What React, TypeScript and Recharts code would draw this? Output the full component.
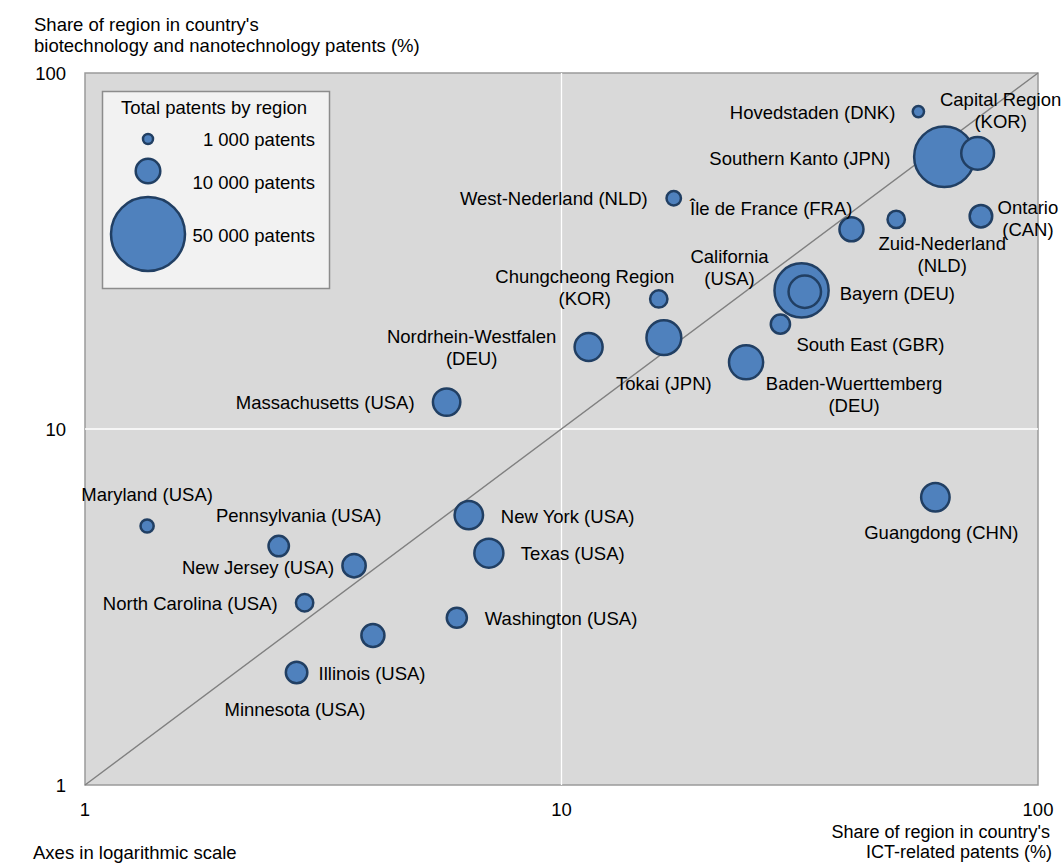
import React from 'react'
import { ScatterChart, Scatter, XAxis, YAxis, ZAxis, ReferenceArea, ReferenceLine } from 'recharts'

// regions, with line breaks where the labels wrap
const REGIONS = [
  'Hovedstaden (DNK)', 'Capital Region\n(KOR)', 'Southern Kanto (JPN)', 'West-Nederland (NLD)',
  'Île de France (FRA)', 'Zuid-Nederland\n(NLD)', 'Ontario\n(CAN)', 'California\n(USA)',
  'Bayern (DEU)', 'South East (GBR)', 'Baden-Wuerttemberg\n(DEU)', 'Guangdong (CHN)',
  'Chungcheong Region\n(KOR)', 'Tokai (JPN)', 'Nordrhein-Westfalen\n(DEU)', 'Massachusetts (USA)',
  'Maryland (USA)', 'Pennsylvania (USA)', 'New Jersey (USA)', 'North Carolina (USA)',
  'New York (USA)', 'Texas (USA)', 'Washington (USA)', 'Minnesota (USA)', 'Illinois (USA)',
]
// share of region in country's ICT-related patents (%)
const ICT_SHARE = [56.1, 74.7, 63.6, 17.2, 40.6, 50.4, 75.9, 31.9, 32.4, 28.8, 24.4, 60.9, 16.0, 16.4, 11.4, 5.74, 1.35, 2.55, 3.67, 2.89, 6.39, 7.04, 6.03, 4.02, 2.78]
// share of region in country's biotech and nanotech patents (%)
const BIO_SHARE = [77.9, 59.5, 58.2, 44.5, 36.4, 38.8, 39.6, 24.5, 24.3, 19.7, 15.4, 6.43, 23.2, 18.05, 17.0, 11.9, 5.34, 4.69, 4.13, 3.25, 5.73, 4.48, 2.95, 2.63, 2.07]
// total patents by region
const TOTAL_PATENTS = [1100, 9300, 31600, 1800, 5000, 2600, 4400, 25400, 9100, 3200, 10100, 7000, 2600, 10500, 6800, 6500, 1500, 3600, 4700, 2600, 7000, 7300, 3500, 4600, 4000]

const AXIS_TICKS = [1, 10, 100]
const LEGEND_LABELS = ['1 000 patents', '10 000 patents', '50 000 patents']

const W = 1064
const H = 863
const FONT = '"Liberation Sans", Arial, Helvetica, sans-serif'
const FS = 18.5
const LINE_H = 22
const FILL = '#4F81BD'
const EDGE = '#213F63'

type Anchor = 'start' | 'middle' | 'end'
// where each label sits relative to its bubble centre
const LABEL_POS: Record<string, { anchor: Anchor; dx: number; dy: number }> = {
  'Hovedstaden (DNK)': { anchor: 'end', dx: -23, dy: 0 },
  'Capital Region\n(KOR)': { anchor: 'middle', dx: 23, dy: -54 },
  'Southern Kanto (JPN)': { anchor: 'end', dx: -54, dy: 1 },
  'West-Nederland (NLD)': { anchor: 'end', dx: -26, dy: 0 },
  'Île de France (FRA)': { anchor: 'end', dx: 1, dy: -21 },
  'Zuid-Nederland\n(NLD)': { anchor: 'middle', dx: 46, dy: 24 },
  'Ontario\n(CAN)': { anchor: 'middle', dx: 47, dy: -9 },
  'California\n(USA)': { anchor: 'middle', dx: -72, dy: -34 },
  'Bayern (DEU)': { anchor: 'start', dx: 35, dy: 1 },
  'South East (GBR)': { anchor: 'start', dx: 16, dy: 20 },
  'Baden-Wuerttemberg\n(DEU)': { anchor: 'middle', dx: 108, dy: 21 },
  'Guangdong (CHN)': { anchor: 'middle', dx: 6, dy: 35 },
  'Chungcheong Region\n(KOR)': { anchor: 'middle', dx: -74, dy: -23 },
  'Tokai (JPN)': { anchor: 'middle', dx: 0, dy: 45 },
  'Nordrhein-Westfalen\n(DEU)': { anchor: 'middle', dx: -117, dy: -11 },
  'Massachusetts (USA)': { anchor: 'end', dx: -32, dy: 0 },
  'Maryland (USA)': { anchor: 'middle', dx: 0, dy: -32 },
  'Pennsylvania (USA)': { anchor: 'middle', dx: 20, dy: -31 },
  'New Jersey (USA)': { anchor: 'end', dx: -20, dy: 1 },
  'North Carolina (USA)': { anchor: 'end', dx: -27, dy: 0 },
  'New York (USA)': { anchor: 'start', dx: 32, dy: 1 },
  'Texas (USA)': { anchor: 'start', dx: 32, dy: 0 },
  'Washington (USA)': { anchor: 'start', dx: 28, dy: 0 },
  'Minnesota (USA)': { anchor: 'middle', dx: -78, dy: 74 },
  'Illinois (USA)': { anchor: 'start', dx: 22, dy: 0 },
}

// biggest first so the small bubbles stay on top
const data = REGIONS.map((name, i) => ({
  name,
  ict: ICT_SHARE[i],
  bio: BIO_SHARE[i],
  patents: TOTAL_PATENTS[i],
})).sort((a, b) => b.patents - a.patents)

const RegionLabel = (props: any) => {
  const { cx, cy, payload } = props
  if (cx == null || cy == null || !payload) return null
  const pos = LABEL_POS[payload.name] || { anchor: 'start', dx: 20, dy: 0 }
  const lines: string[] = payload.name.split('\n')
  const x = cx + pos.dx
  return (
    <text textAnchor={pos.anchor} fontFamily={FONT} fontSize={FS} fill="#000" dominantBaseline="central">
      {lines.map((l, i) => (
        <tspan key={i} x={x} y={cy + pos.dy + i * LINE_H}>{l}</tspan>
      ))}
    </text>
  )
}

const tickStyle = { fontSize: FS, fill: '#000', fontFamily: FONT }

function Overlay() {
  const txt = { fontFamily: FONT, fontSize: FS, fill: '#000', dominantBaseline: 'central' as const }
  const legendR = [5, 12.3, 37]
  const legendCy = [139, 171, 234]
  const legendTy = [139, 182, 235]
  return (
    <svg width={W} height={H} style={{ position: 'absolute', left: 0, top: 0, pointerEvents: 'none' }}>
      <text x={34} y={24} {...txt}>Share of region in country's</text>
      <text x={34} y={45} {...txt}>biotechnology and nanotechnology patents (%)</text>
      <text x={1050} y={832} textAnchor="end" {...txt} fontSize={18}>Share of region in country's</text>
      <text x={1052} y={852} textAnchor="end" {...txt} fontSize={18}>ICT-related patents (%)</text>
      <text x={33} y={852} {...txt}>Axes in logarithmic scale</text>

      <rect x={102.5} y={91.5} width={227} height={197} fill="#F2F2F2" stroke="#8C8C8C" strokeWidth={1.5} />
      <text x={214} y={107} textAnchor="middle" {...txt}>Total patents by region</text>
      {LEGEND_LABELS.map((l, i) => (
        <g key={l}>
          <circle cx={148} cy={legendCy[i]} r={legendR[i]} fill={FILL} stroke={EDGE} strokeWidth={2.5} />
          <text x={315} y={legendTy[i]} textAnchor="end" {...txt}>{l}</text>
        </g>
      ))}
    </svg>
  )
}

export default function App() {
  return (
    <div style={{ position: 'absolute', left: 0, top: 0, width: W, height: H, background: '#fff' }}>
      <ScatterChart width={W} height={H} margin={{ top: 73, right: 26, bottom: 40, left: 25 }}>
        <XAxis
          type="number"
          dataKey="ict"
          scale="log"
          domain={[1, 100]}
          ticks={AXIS_TICKS}
          interval={0}
          axisLine={false}
          tickLine={false}
          tickMargin={12}
          height={38}
          tick={tickStyle}
        />
        <YAxis
          type="number"
          dataKey="bio"
          scale="log"
          domain={[1, 100]}
          ticks={AXIS_TICKS}
          interval={0}
          axisLine={false}
          tickLine={false}
          tickMargin={13}
          width={60}
          tick={tickStyle}
        />
        <ZAxis type="number" dataKey="patents" domain={[0, 50000]} range={[0, 4536]} />
        <ReferenceArea x1={1} x2={100} y1={1} y2={100} fill="#D9D9D9" fillOpacity={1} stroke="#9A9A9A" strokeWidth={1.5} />
        <ReferenceLine x={10} stroke="#FFFFFF" strokeWidth={1.3} />
        <ReferenceLine y={10} stroke="#FFFFFF" strokeWidth={1.3} />
        <ReferenceLine segment={[{ x: 1, y: 1 }, { x: 100, y: 100 }]} stroke="#808080" strokeWidth={1.4} />
        <Scatter data={data} fill={FILL} stroke={EDGE} strokeWidth={2.5} isAnimationActive={false} />
        <Scatter data={data} shape={RegionLabel} fill="none" isAnimationActive={false} />
      </ScatterChart>
      <Overlay />
    </div>
  )
}
